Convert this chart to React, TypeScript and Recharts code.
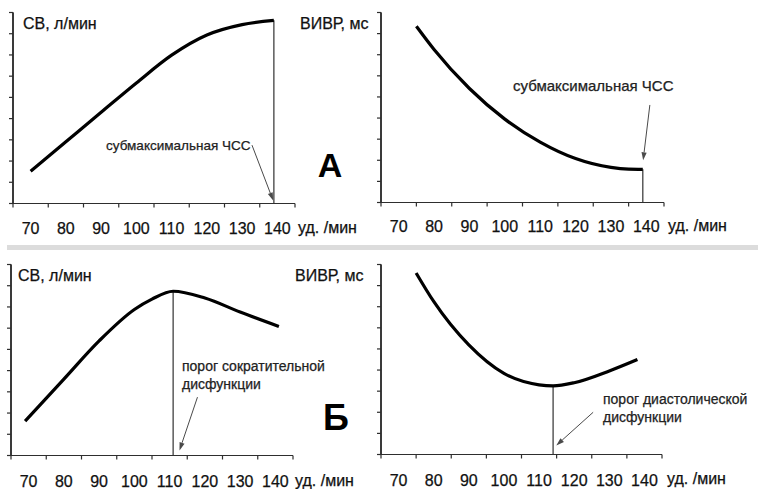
import React from 'react';
import { LineChart, Line, XAxis, YAxis, ReferenceLine } from 'recharts';

// ---------- data ----------
const xTicks = [65, 70, 75, 80, 85, 90, 95, 100, 105, 110, 115, 120, 125, 130, 135, 140, 145];
const yTicks = [0, 1, 2, 3, 4, 5, 6, 7, 8, 9];

// Panel A, cardiac output (СВ)
const hrA_co = [70, 80, 90, 100, 110, 120, 130, 139];
const coA = [1.52, 2.91, 4.3, 5.68, 6.99, 7.94, 8.43, 8.63];
// Panel A, IVRT (ВИВР)
const hrA_ivrt = [75, 80, 90, 100, 110, 120, 130, 135, 139];
const ivrtA = [8.35, 7.25, 5.4, 3.95, 2.86, 2.08, 1.66, 1.58, 1.57];
// Panel Б, cardiac output
const hrB_co = [69, 80, 90, 100, 105, 111, 120, 130, 141];
const coB = [1.62, 3.6, 5.4, 6.88, 7.37, 7.74, 7.42, 6.76, 6.08];
// Panel Б, IVRT
const hrB_ivrt = [75, 80, 90, 100, 110, 114, 120, 130, 138];
const ivrtB = [8.6, 7.25, 5.19, 3.84, 3.3, 3.25, 3.4, 3.96, 4.5];

// thresholds (vertical markers) and arrows [fromX, fromY, toX, toY]
const markA_co = { x: 139, y: 8.63 };
const markA_ivrt = { x: 139, y: 1.57 };
const markB_co = { x: 111, y: 7.74 };
const markB_ivrt = { x: 114, y: 3.25 };
const arrowA_co = [132.8, 2.75, 138.8, 0.14];
const arrowA_ivrt = [141.0, 4.62, 139.1, 2.0];
const arrowB_co = [117.9, 2.75, 112.8, 0.24];
const arrowB_ivrt = [125.4, 2.0, 114.9, 0.43];

const X_MIN = 65;
const X_MAX = 145;
const Y_MIN = 0;
const Y_MAX = 9;

const toRows = (xs: number[], ys: number[]) => xs.map((hr, i) => ({ hr, v: ys[i] }));

// ---------- layout & styles ----------
const W = 758;
const H = 489;
const FONT = '"Liberation Sans", Arial, sans-serif';
const AXIS = '#2e2e2e';
const TEXT = '#111';
const Y_AXIS_W = 10;

const PLOT_TL = { left: 13, right: 295, top: 12.5, bottom: 203.5 };
const PLOT_TR = { left: 381, right: 664, top: 12.5, bottom: 202.5 };
const PLOT_BL = { left: 11, right: 293, top: 264.5, bottom: 455.5 };
const PLOT_BR = { left: 381, right: 662, top: 264.5, bottom: 454.5 };

const makeXTick = (labelOffset: number) => (props: any) => {
  const { x, y, payload } = props;
  const v = payload.value;
  if (v % 10 === 5) {
    return <line x1={x} y1={y} x2={x} y2={y + 4} stroke={AXIS} strokeWidth={1.2} />;
  }
  return (
    <text x={x} y={y + labelOffset} textAnchor="middle" fontSize={16} fontFamily={FONT} fill={TEXT} stroke={TEXT} strokeWidth={0.25}>
      {v}
    </text>
  );
};

const renderYTick = (props: any) => {
  const { x, y } = props;
  return <line x1={x - 4} y1={y} x2={x} y2={y} stroke={AXIS} strokeWidth={1.2} />;
};

const renderArrow = (p: any) => {
  const { x1, y1, x2, y2 } = p;
  const dx = x2 - x1;
  const dy = y2 - y1;
  const len = Math.hypot(dx, dy) || 1;
  const ux = dx / len;
  const uy = dy / len;
  const hl = 8;
  const hw = 2.6;
  const bx = x2 - ux * hl;
  const by = y2 - uy * hl;
  const pts = `${x2},${y2} ${bx - uy * hw},${by + ux * hw} ${bx + uy * hw},${by - ux * hw}`;
  return (
    <g>
      <line x1={x1} y1={y1} x2={bx} y2={by} stroke="#4a4a4a" strokeWidth={1} />
      <polygon points={pts} fill="#4a4a4a" />
    </g>
  );
};

type PanelProps = {
  rows: { hr: number; v: number }[];
  plot: { left: number; right: number; top: number; bottom: number };
  labelOffset: number;
  mark: { x: number; y: number };
  arrow: number[];
};

const Panel = ({ rows, plot, labelOffset, mark, arrow }: PanelProps) => (
  <div style={{ position: 'absolute', left: 0, top: 0 }}>
    <LineChart
      width={W}
      height={H}
      data={rows}
      margin={{ left: plot.left - Y_AXIS_W, top: plot.top, right: W - plot.right, bottom: H - plot.bottom - 20 }}
    >
      <XAxis
        dataKey="hr"
        type="number"
        domain={[X_MIN, X_MAX]}
        ticks={xTicks}
        interval={0}
        height={20}
        tickLine={false}
        tickSize={0}
        tickMargin={0}
        axisLine={{ stroke: AXIS, strokeWidth: 1.2 }}
        tick={makeXTick(labelOffset)}
        allowDataOverflow
      />
      <YAxis
        type="number"
        domain={[Y_MIN, Y_MAX]}
        ticks={yTicks}
        interval={0}
        width={Y_AXIS_W}
        tickLine={false}
        tickSize={0}
        tickMargin={0}
        axisLine={{ stroke: AXIS, strokeWidth: 1.5 }}
        tick={renderYTick}
        allowDataOverflow
      />
      <ReferenceLine
        segment={[{ x: mark.x, y: 0 }, { x: mark.x, y: mark.y }]}
        stroke="#5a5a5a"
        strokeWidth={1.5}
        ifOverflow="visible"
      />
      <ReferenceLine
        segment={[{ x: arrow[0], y: arrow[1] }, { x: arrow[2], y: arrow[3] }]}
        shape={renderArrow}
        ifOverflow="visible"
      />
      <Line
        type="monotone"
        dataKey="v"
        stroke="#000"
        strokeWidth={3.2}
        dot={false}
        activeDot={false}
        isAnimationActive={false}
      />
    </LineChart>
  </div>
);

const T = (p: { x: number; y: number; size?: number; bold?: boolean; anchor?: string; fill?: string; children: React.ReactNode }) => {
  const fill = p.fill ?? TEXT;
  return (
    <text
      x={p.x}
      y={p.y}
      fontSize={p.size ?? 16}
      fontWeight={p.bold ? 700 : 400}
      textAnchor={(p.anchor as any) ?? 'start'}
      fontFamily={FONT}
      fill={fill}
      stroke={p.bold ? 'none' : fill}
      strokeWidth={p.bold ? 0 : 0.25}
    >
      {p.children}
    </text>
  );
};

export default function App() {
  const plots = [PLOT_TL, PLOT_TR, PLOT_BL, PLOT_BR];
  return (
    <div style={{ position: 'absolute', left: 0, top: 0, width: W, height: H, background: '#fff', overflow: 'hidden' }}>
      <div style={{ position: 'absolute', left: 7, top: 245, width: W - 7, height: 5, background: '#dcdcdc' }} />
      <Panel rows={toRows(hrA_co, coA)} plot={PLOT_TL} labelOffset={30} mark={markA_co} arrow={arrowA_co} />
      <Panel rows={toRows(hrA_ivrt, ivrtA)} plot={PLOT_TR} labelOffset={29} mark={markA_ivrt} arrow={arrowA_ivrt} />
      <Panel rows={toRows(hrB_co, coB)} plot={PLOT_BL} labelOffset={31} mark={markB_co} arrow={arrowB_co} />
      <Panel rows={toRows(hrB_ivrt, ivrtB)} plot={PLOT_BR} labelOffset={31} mark={markB_ivrt} arrow={arrowB_ivrt} />
      <svg width={W} height={H} style={{ position: 'absolute', left: 0, top: 0, pointerEvents: 'none' }}>
        {plots.map((p, i) => (
          <line key={i} x1={p.left} y1={p.top} x2={p.left} y2={p.bottom} stroke={AXIS} strokeWidth={1.5} />
        ))}
        <T x={23} y={29}>СВ, л/мин</T>
        <T x={300} y={29}>ВИВР, мс</T>
        <T x={18} y={281}>СВ, л/мин</T>
        <T x={295} y={281}>ВИВР, мс</T>
        <T x={298} y={233}>уд. /мин</T>
        <T x={668} y={231}>уд. /мин</T>
        <T x={295} y={486}>уд. /мин</T>
        <T x={667} y={484}>уд. /мин</T>
        <T x={106} y={150} size={13.5} fill="#222">субмаксимальная ЧСС</T>
        <T x={513} y={91} size={15} fill="#222">субмаксимальная ЧСС</T>
        <T x={182} y={371} size={14} fill="#222">порог сократительной</T>
        <T x={182} y={389} size={14} fill="#222">дисфункции</T>
        <T x={603} y={404} size={14} fill="#222">порог диастолической</T>
        <T x={603} y={422} size={14} fill="#222">дисфункции</T>
        <T x={330} y={177} size={34} bold anchor="middle" fill="#000">А</T>
        <T x={336} y={430} size={36} bold anchor="middle" fill="#000">Б</T>
      </svg>
    </div>
  );
}
